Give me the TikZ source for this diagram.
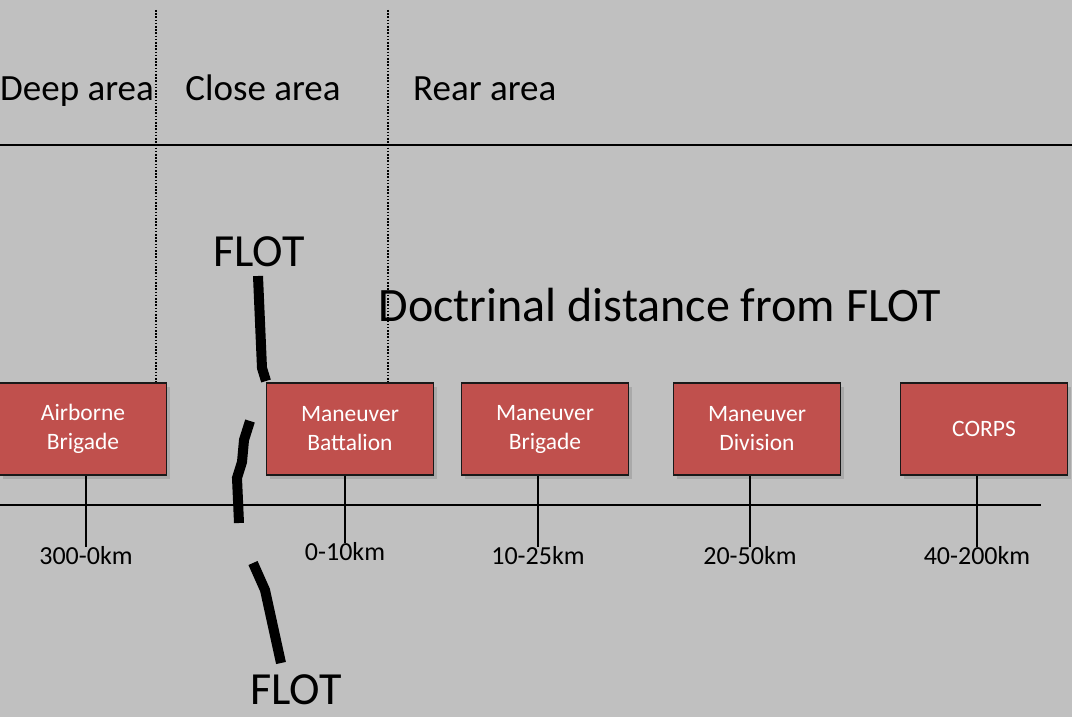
\documentclass[tikz,border=0pt]{standalone}
\usepackage{fontspec}
\setmainfont{Carlito}
\usepackage{tikz}
\usetikzlibrary{shadows, positioning, calc}

\definecolor{bggray}{HTML}{C0C0C0}
\definecolor{unitred}{HTML}{C0504D}

\begin{document}
\begin{tikzpicture}[
    x=1pt, y=-1pt,
    unit/.style={rectangle, draw=black!90, line width=1.8pt, fill=unitred, text=white, minimum width=167pt, minimum height=92pt, align=center, font=\fontsize{23.5}{29}\selectfont, drop shadow={shadow xshift=3pt, shadow yshift=-4pt, opacity=0.35}},
    area/.style={font=\fontsize{37}{42}\selectfont, inner sep=0pt},
    dist/.style={font=\fontsize{26}{30}\selectfont},
    flotlbl/.style={font=\fontsize{46}{50}\selectfont, inner sep=0pt},
    flot/.style={line width=10pt, line join=miter},
    boundary/.style={line width=1.8pt, dash pattern=on 1.6pt off 1.6pt},
    axis/.style={line width=1.8pt}
]

% background
\fill[bggray] (0,0) rectangle (1072,717);
\useasboundingbox (0,0) rectangle (1072,717);

% areas
\coordinate (topL) at (0,145);
\coordinate (topR) at (1072,145);
\draw[axis] (topL) -- (topR);
\node[area, anchor=base west] (deep) at (0,100) {Deep area};
\node[area, anchor=base] (close) at (263,100) {Close area};
\node[area, anchor=base west] (rear) at (413,100) {Rear area};

% units
\node[unit] (ab) at (83,429) {Airborne\\Brigade};
\node[unit] (bn) at (350,429) {Maneuver\\Battalion};
\node[unit] (bde) at (545,429) {Maneuver\\Brigade};
\node[unit] (div) at (757,429) {Maneuver\\Division};
\node[unit] (corps) at (984,429) {CORPS};

% boundaries
\coordinate (b1) at (156,10);
\coordinate (b2) at (388,10);
\draw[boundary] (b1) -- (b1 |- ab.north);
\draw[boundary] (b2) -- (b2 |- bn.north);

% distances
\node[dist] (d1) at (86,556) {300-0km};
\node[dist] (d2) at (345,552) {0-10km};
\node[dist] (d3) at (538,556) {10-25km};
\node[dist] (d4) at (750,556) {20-50km};
\node[dist] (d5) at (977,556) {40-200km};
\coordinate (axL) at (0,505);
\coordinate (axR) at (1041,505);
\draw[axis] (axL) -- (axR);
\foreach \u/\d in {ab/d1, bn/d2, bde/d3, div/d4, corps/d5}
  \draw[axis] (\d.north |- \u.south) -- ($(\d.north)+(0,4)$);

% FLOT
\node[flotlbl] (flotT) at (259,252) {FLOT};
\node[flotlbl] (flotB) at (296,690) {FLOT};
\node[font=\fontsize{48}{52}\selectfont, inner sep=0pt] (doct) at (660,305) {Doctrinal distance from FLOT};
\draw[flot] (258,276) -- (262,368) -- (266,381);
\draw[flot] (250,421) -- (244,440) -- (242,462) -- (237,478) -- (239,523);
\draw[flot] (253,563) -- (265,590) -- (281,663);

\end{tikzpicture}
\end{document}
